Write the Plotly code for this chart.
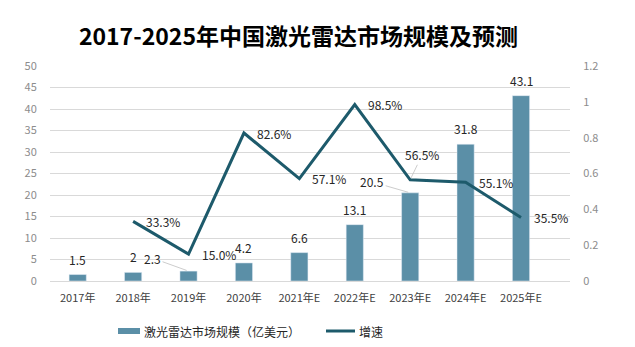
import plotly.graph_objects as go

years = ["2017年", "2018年", "2019年", "2020年", "2021年E", "2022年E", "2023年E", "2024年E", "2025年E"]
market_size = [1.5, 2, 2.3, 4.2, 6.6, 13.1, 20.5, 31.8, 43.1]
growth = [None, 0.333, 0.150, 0.826, 0.571, 0.985, 0.565, 0.551, 0.355]
growth_labels = [None, "33.3%", "15.0%", "82.6%", "57.1%", "98.5%", "56.5%", "55.1%", "35.5%"]

BAR_COLOR = "#5b8fa7"
LINE_COLOR = "#1d5a6b"
FONT = "Noto Sans CJK SC"

# plot area in pixels (left, right, top, bottom) used to place the legend
PX_L, PX_R, PX_T, PX_B = 50, 570, 66, 281


def px_x(x):
    return (x - PX_L) / (PX_R - PX_L)


def px_y(y):
    return (PX_B - y) / (PX_B - PX_T)


fig = go.Figure()
fig.add_trace(go.Bar(x=years, y=market_size, marker_color=BAR_COLOR,
                     name="激光雷达市场规模（亿美元）", yaxis="y", showlegend=False))
fig.add_trace(go.Scatter(x=years, y=growth, mode="lines", line=dict(color=LINE_COLOR, width=3),
                         name="增速", yaxis="y2", showlegend=False, connectgaps=False))

ann = []
# bar value labels; a few are pulled aside with a leader line
bar_leaders = {2: (-36, -13), 6: (-38, -11)}
for i, (yr, v) in enumerate(zip(years, market_size)):
    if i in bar_leaders:
        ax, ay = bar_leaders[i]
        ann.append(dict(x=yr, y=v, xref="x", yref="y", text=str(v), showarrow=True,
                        ax=ax, ay=ay, arrowhead=0, arrowwidth=0.8, arrowcolor="#bfbfbf",
                        standoff=2, font=dict(size=12, color="#262626", family=FONT)))
    else:
        ann.append(dict(x=yr, y=v, xref="x", yref="y", text=str(v), showarrow=False,
                        yanchor="bottom", yshift=5, font=dict(size=12, color="#262626", family=FONT)))

# growth labels
for i, (yr, g, t) in enumerate(zip(years, growth, growth_labels)):
    if g is None:
        continue
    if i == 6:
        ann.append(dict(x=yr, y=g, xref="x", yref="y2", text=t, showarrow=True,
                        ax=12, ay=-25, arrowhead=0, arrowwidth=0.8, arrowcolor="#bfbfbf",
                        standoff=2, font=dict(size=12, color="#262626", family=FONT)))
    else:
        ann.append(dict(x=yr, y=g, xref="x", yref="y2", text=t, showarrow=False,
                        xanchor="left", xshift=11, font=dict(size=12, color="#262626", family=FONT)))

# legend drawn as swatches + text
LEG_Y = 331
shapes = [
    dict(type="rect", xref="paper", yref="paper", x0=px_x(118), x1=px_x(140),
         y0=px_y(LEG_Y + 3), y1=px_y(LEG_Y - 3), fillcolor=BAR_COLOR, line_width=0),
    dict(type="line", xref="paper", yref="paper", x0=px_x(326), x1=px_x(355),
         y0=px_y(LEG_Y), y1=px_y(LEG_Y), line=dict(color=LINE_COLOR, width=3)),
]
ann.append(dict(xref="paper", yref="paper", x=px_x(142), y=px_y(LEG_Y),
                text="激光雷达市场规模（亿美元）", showarrow=False, xanchor="left", yanchor="middle",
                font=dict(size=12, color="#262626", family=FONT)))
ann.append(dict(xref="paper", yref="paper", x=px_x(357), y=px_y(LEG_Y),
                text="增速", showarrow=False, xanchor="left", yanchor="middle",
                font=dict(size=12, color="#262626", family=FONT)))

fig.update_layout(
    width=635, height=347,
    margin=dict(l=PX_L, r=635 - PX_R, t=PX_T, b=347 - PX_B),
    paper_bgcolor="white", plot_bgcolor="white",
    title=dict(text="<b>2017-2025年中国激光雷达市场规模及预测</b>", x=0.47, xanchor="center",
               y=1 - 37 / 347, yanchor="middle", font=dict(size=23, color="black", family=FONT)),
    bargap=0.69,
    xaxis=dict(type="category", tickfont=dict(size=11, color="#404040", family=FONT),
               showline=True, linecolor="#d9d9d9", linewidth=1, showgrid=False,
               ticks="outside", ticklen=7, tickcolor="rgba(0,0,0,0)"),
    yaxis=dict(range=[0, 50], dtick=5, gridcolor="#d9d9d9", gridwidth=1, zeroline=False,
               tickfont=dict(size=11, color="#8c8c8c", family=FONT),
               ticks="outside", ticklen=10, tickcolor="rgba(0,0,0,0)"),
    yaxis2=dict(range=[0, 1.2], dtick=0.2, overlaying="y", side="right", showgrid=False,
                zeroline=False, tickfont=dict(size=11, color="#8c8c8c", family=FONT),
                ticks="outside", ticklen=10, tickcolor="rgba(0,0,0,0)"),
    annotations=ann,
    shapes=shapes,
    showlegend=False,
)

fig.write_html("out.html")
